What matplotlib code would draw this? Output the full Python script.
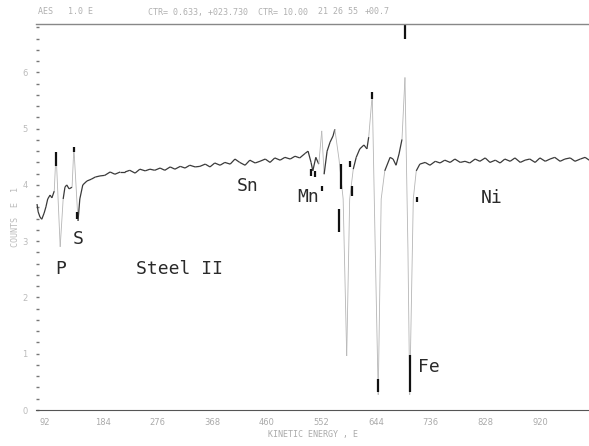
import matplotlib
matplotlib.use("Agg")
import matplotlib.pyplot as plt
from matplotlib.collections import LineCollection
from matplotlib.ticker import MultipleLocator

# Auger spectrum, Steel II (energies in eV, signal in plot units)
energy_low = [87, 89, 92, 95, 99, 102, 105, 109, 112, 116, 119, 126, 131, 134,
              137, 141, 146, 149, 156, 159, 164, 171, 178, 185, 193, 201, 210,
              218, 227, 235]
signal_low = [3.66, 3.52, 3.43, 3.39, 3.50, 3.61, 3.75, 3.82, 3.77, 3.89, 4.58,
              2.90, 3.75, 3.96, 4.00, 3.93, 3.96, 4.67, 3.36, 3.75, 4.00, 4.07,
              4.10, 4.14, 4.16, 4.17, 4.23, 4.19, 4.23, 4.23]

energy_mid = [243, 252, 260, 269, 277, 285, 294, 302, 311, 319, 328, 336, 344,
              353, 361, 370, 378, 386, 395, 403, 412, 420, 428, 437, 445, 454,
              462, 471, 479, 487, 496, 504, 513, 521, 529]
signal_mid = [4.26, 4.21, 4.28, 4.25, 4.28, 4.26, 4.30, 4.26, 4.32, 4.28, 4.33,
              4.30, 4.35, 4.32, 4.33, 4.37, 4.32, 4.39, 4.35, 4.40, 4.37, 4.46,
              4.40, 4.35, 4.44, 4.39, 4.42, 4.46, 4.40, 4.48, 4.44, 4.49, 4.46,
              4.51, 4.48]

energy_mnfe = [538, 543, 548, 551, 556, 561, 566, 570, 575, 580, 585, 588, 595,
               602, 608, 613, 619, 624, 630, 637, 642, 645, 651, 656, 661, 666,
               672, 681, 686, 691, 696, 701, 706, 711, 714, 720, 725, 731]
signal_mnfe = [4.56, 4.60, 4.40, 4.25, 4.49, 4.37, 4.96, 4.19, 4.60, 4.76, 4.87,
               4.99, 4.46, 3.75, 0.96, 3.75, 4.28, 4.49, 4.64, 4.71, 4.64, 4.85,
               5.61, 2.86, 0.27, 3.75, 4.25, 4.49, 4.46, 4.35, 4.55, 4.81, 5.91,
               2.86, 0.27, 3.75, 4.25, 4.37]

energy_high = [740, 748, 757, 765, 773, 782, 790, 799, 807, 815, 824, 832, 841,
               849, 858, 866, 874, 883, 891, 900, 908, 916, 925, 933, 942, 950,
               958, 967, 975, 984, 992, 1001, 1009, 1016]
signal_high = [4.40, 4.35, 4.42, 4.39, 4.44, 4.40, 4.46, 4.40, 4.42, 4.39, 4.46,
               4.42, 4.48, 4.40, 4.44, 4.39, 4.46, 4.42, 4.48, 4.40, 4.44, 4.46,
               4.40, 4.48, 4.42, 4.46, 4.49, 4.42, 4.46, 4.48, 4.42, 4.46, 4.49,
               4.44]

energy = energy_low + energy_mid + energy_mnfe + energy_high
signal = signal_low + signal_mid + signal_mnfe + signal_high

# peak marker bars drawn by the plotter: (energy, low, high)
marker_e = [119, 149, 154, 548, 555, 567, 595, 599, 613, 617, 650, 661, 706, 714, 726]
marker_lo = [4.33, 4.58, 3.39, 4.16, 4.14, 3.89, 3.16, 3.93, 4.32, 3.80, 5.52, 0.32, 6.59, 0.32, 3.69]
marker_hi = [4.58, 4.67, 3.52, 4.28, 4.25, 3.98, 3.57, 4.37, 4.42, 3.98, 5.65, 0.55, 6.87, 0.98, 3.78]

# element labels
label_text = ["P", "S", "Steel II", "Sn", "Mn", "Ni", "Fe"]
label_e = [126, 156, 327, 442, 543, 852, 746]
label_y = [2.50, 3.04, 2.50, 3.98, 3.78, 3.77, 0.76]

x_ticks = [92, 184, 276, 368, 460, 552, 644, 736, 828, 920]
y_ticks = [0, 1, 2, 3, 4, 5, 6]

fig = plt.figure(figsize=(5.89, 4.46), dpi=100)
ax = fig.add_axes([36 / 589, 36 / 446, 553 / 589, 386 / 446])

# the pen left the fast swings faint and the slow baseline dark
segs, cols, widths = [], [], []
for i in range(len(energy) - 1):
    segs.append([(energy[i], signal[i]), (energy[i + 1], signal[i + 1])])
    steep = abs(signal[i + 1] - signal[i]) > 0.45
    cols.append("#b5b5b5" if steep else "#3a3a3a")
    widths.append(0.6 if steep else 0.9)
ax.add_collection(LineCollection(segs, colors=cols, linewidths=widths))
ax.vlines(marker_e, marker_lo, marker_hi, color="#111111", lw=1.6)

for t, e, y in zip(label_text, label_e, label_y):
    ax.text(e, y, t, ha="center", va="center", fontsize=13,
            family="DejaVu Sans Mono", color="#2a2a2a")

ax.set_xlim(85.3, 1015.6)
ax.set_ylim(0, 6.86)

ax.spines["right"].set_visible(False)
ax.spines["left"].set_visible(False)
ax.spines["top"].set_color("#888888")
ax.spines["top"].set_linewidth(1.0)
ax.spines["bottom"].set_color("#555555")
ax.spines["bottom"].set_linestyle((0, (3, 1)))

ax.set_xticks(x_ticks)
ax.set_xticklabels([str(v) for v in x_ticks], ha="left")
ax.set_yticks(y_ticks)
ax.yaxis.set_minor_locator(MultipleLocator(0.2))
ax.tick_params(axis="x", length=0, labelsize=6, labelcolor="#aaaaaa", pad=6)
ax.tick_params(axis="y", which="both", direction="in", length=2, width=1,
               color="#777777", labelsize=6, labelcolor="#bbbbbb", pad=6)

ax.set_xlabel("KINETIC ENERGY , E", fontsize=6, color="#aaaaaa", labelpad=2,
              family="DejaVu Sans Mono")
ax.set_ylabel("COUNTS  E  1", fontsize=6, color="#bbbbbb", labelpad=2,
              family="DejaVu Sans Mono")

hy = (446 - 12) / 446
fig.text(38 / 589, hy, "AES   1.0 E", fontsize=6, color="#b0b0b0", family="DejaVu Sans Mono", va="center")
fig.text(148 / 589, hy, "CTR= 0.633, +023.730  CTR= 10.00", fontsize=6, color="#b0b0b0",
         family="DejaVu Sans Mono", va="center")
fig.text(318 / 589, hy, "21 26 55", fontsize=6, color="#b0b0b0", family="DejaVu Sans Mono", va="center")
fig.text(365 / 589, hy, "+00.7", fontsize=6, color="#b0b0b0", family="DejaVu Sans Mono", va="center")

fig.savefig("out.png", dpi=100, facecolor="white")
